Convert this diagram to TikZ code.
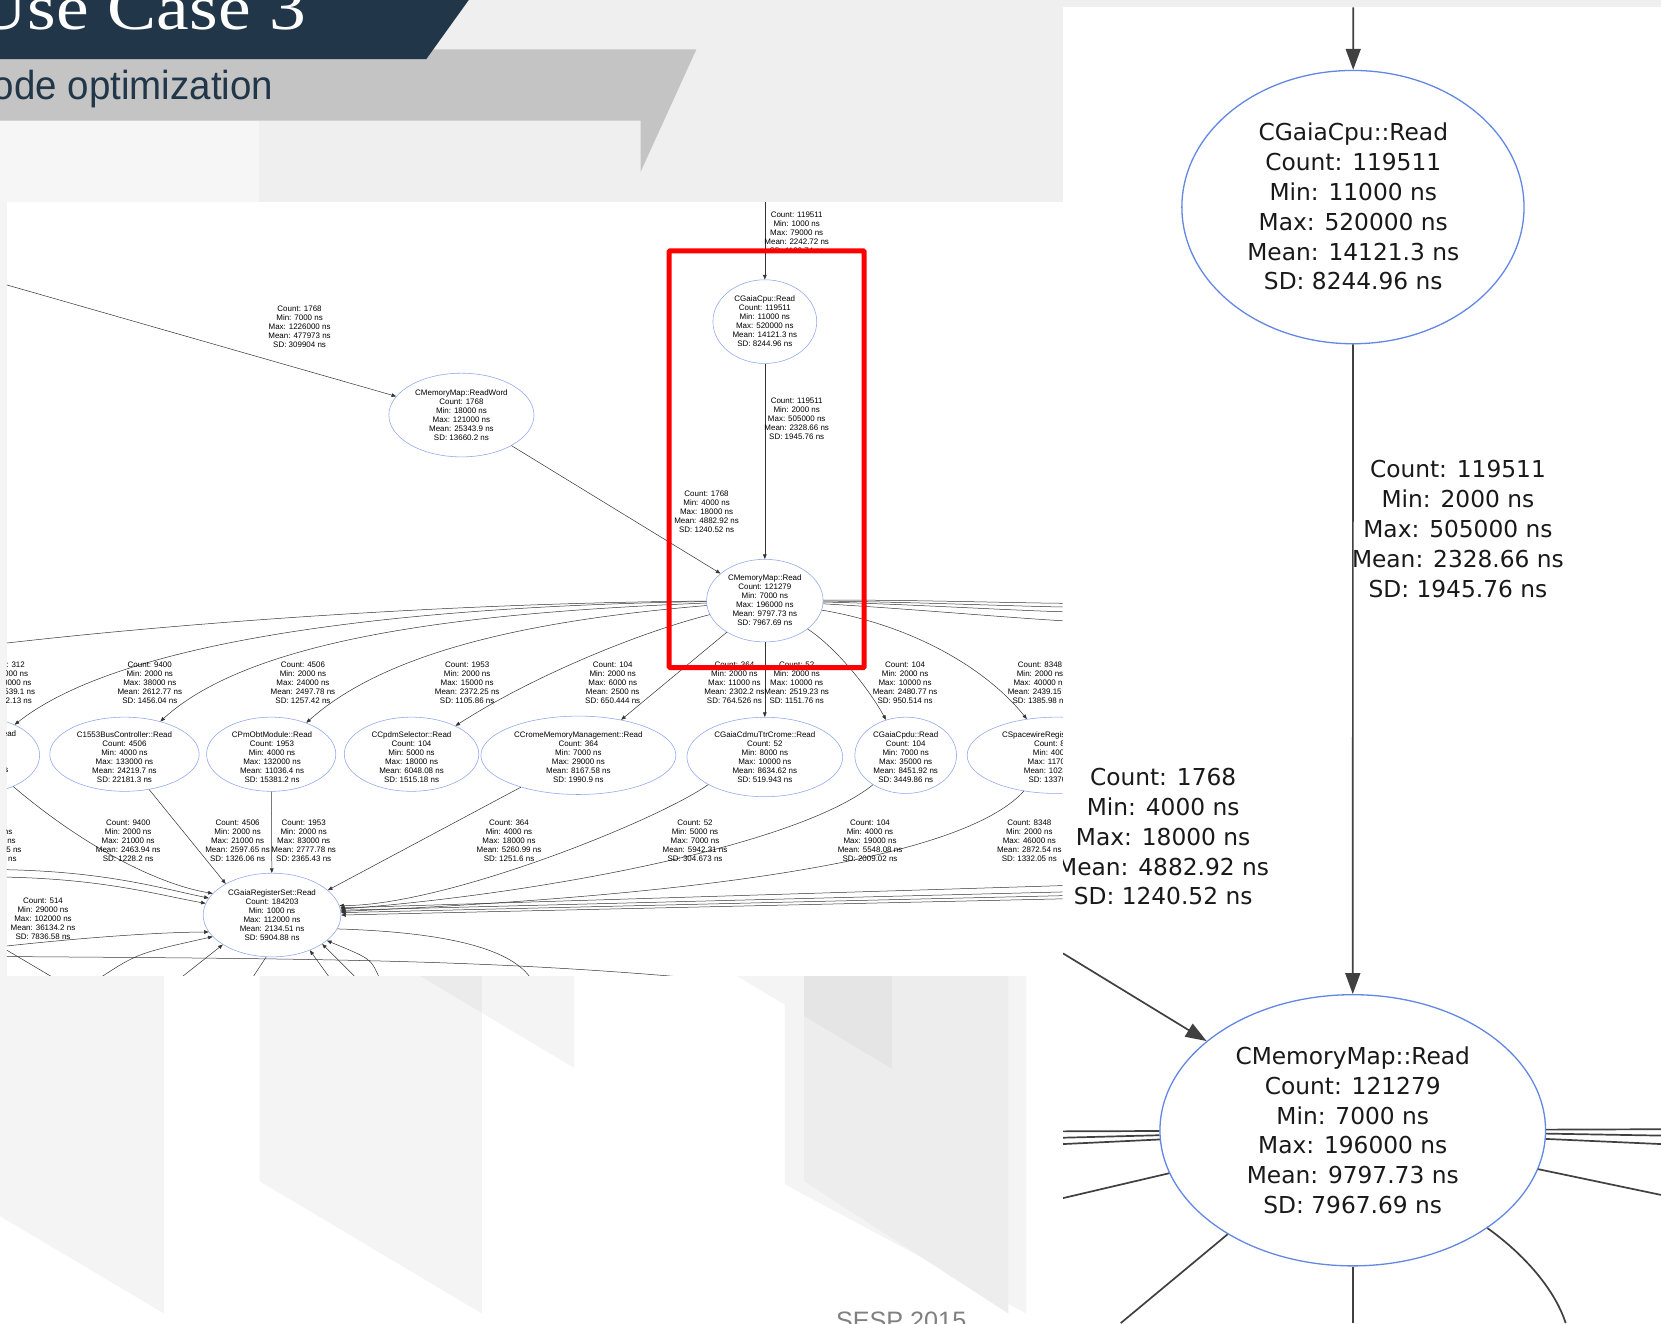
\documentclass[tikz,border=0pt]{standalone}
\usepackage{fontspec}
\setmainfont{Liberation Serif}
\newfontfamily\gf{Liberation Sans}
\newfontfamily\dv{DejaVu Sans}
\usetikzlibrary{shapes.geometric,arrows.meta}
\definecolor{navy}{HTML}{213649}
\definecolor{band}{HTML}{C4C4C4}
\definecolor{slide}{HTML}{EFEFEF}
\definecolor{pale}{HTML}{F6F6F6}
\definecolor{colA}{HTML}{F4F4F4}
\definecolor{colB}{HTML}{EBEBEB}
\definecolor{colC}{HTML}{EDEDED}
\definecolor{colD}{HTML}{E5E5E5}
\definecolor{ellb}{HTML}{8DA6EC}
\definecolor{ellB}{HTML}{6287E4}
\newcommand\elab[5]{Count: #1\\Min: #2 ns\\Max: #3 ns\\Mean: #4 ns\\SD: #5 ns}
\newcommand\ntext[6]{#1\\Count: #2\\Min: #3 ns\\Max: #4 ns\\Mean: #5 ns\\SD: #6 ns}
\tikzset{
 ge/.style 2 args={ellipse, draw=ellb, line width=0.55pt, minimum width=#1*1.0593pt, minimum height=#2*1.0593pt, inner sep=0pt},
 gt/.style={font=\gf\fontsize{7.97}{9.0}\selectfont, align=center, inner sep=0pt, text=black},
 gedge/.style={draw=black!80, line width=0.5pt, -{Triangle[length=4.6pt,width=3.6pt]}},
 gline/.style={draw=black!80, line width=0.5pt},
 be/.style 2 args={ellipse, draw=ellB, line width=1.3pt, minimum width=#1*1.0593pt, minimum height=#2*1.0593pt, inner sep=0pt},
 bt/.style={font=\dv\fontsize{23.3}{29.8}\selectfont, align=center, inner sep=0pt, text=black!90},
 bedge/.style={draw=black!75, line width=1.7pt, -{Triangle[length=21pt,width=15pt]}},
 bline/.style={draw=black!75, line width=1.7pt},
}
\begin{document}
\begin{tikzpicture}[x=1.0593pt,y=-1.0593pt]
\useasboundingbox (0,0) rectangle (1568,1249);
% ---------- slide background ----------
\fill[slide] (0,0) rectangle (1568,1249);
\fill[pale] (0,113.9) rectangle (244.5,190.5);
\fill[colA] (0,190.5) rectangle (6.5,921);
\fill[white] (0,921) rectangle (1003.5,1249);
\fill[colA] (0,921) -- (155,921) -- (155,1240) -- (0,1148) -- cycle;
\fill[colA] (245,921) -- (455,921) -- (455,1240) -- (245,1115) -- cycle;
\fill[colA] (396,921) -- (542,921) -- (542,1008) -- cycle;
\fill[colB] (396,921) -- (455,921) -- (455,956) -- cycle;
\fill[colA] (741,921) -- (969,921) -- (969,1240) -- (741,1118) -- cycle;
\fill[colA] (695,921) -- (842,921) -- (842,1009) -- cycle;
\fill[colC] (759,921) -- (952,921) -- (952,1240) -- (759,1115) -- cycle;
\fill[colD] (759,921) -- (842,921) -- (842,1009) -- (759,959) -- cycle;
\node[font=\gf\fontsize{25.2}{30}\selectfont, text=black!50, anchor=base west, inner sep=0pt] (footer) at (789,1255) {SESP 2015};
% ---------- title ----------
\fill[band] (0,46.6) -- (657.4,46.6) -- (604.8,162.1) -- (604.8,113.9) -- (0,113.9) -- cycle;
\fill[navy] (0,0) -- (442.5,0) -- (402.5,55.7) -- (0,55.7) -- cycle;
\node[font=\fontsize{64}{70}\selectfont, text=white, anchor=base east, inner sep=0pt, xscale=1.15] (title) at (289,28) {Use Case 3};
\node[font=\gf\fontsize{40.5}{45}\selectfont, text=navy, anchor=base east, inner sep=0pt, xscale=0.95] (subtitle) at (258,93.5) {ode optimization};
% ---------- graph screenshot ----------
\fill[white] (6.5,190.5) rectangle (1003,921);
\begin{scope}
\clip (6.5,190.5) rectangle (1003,921);
% nodes
\node[ge={98}{79}] (cpu) at (722,303.6) {};
\node[gt] (t-cpu) at (cpu) {\ntext{CGaiaCpu::Read}{119511}{11000}{520000}{14121.3}{8244.96}};
\node[ge={137}{79}] (rw) at (435.6,391.8) {};
\node[gt] (t-rw) at (rw) {\ntext{CMemoryMap::ReadWord}{1768}{18000}{121000}{25343.9}{13660.2}};
\node[ge={110}{78}] (cmm) at (722,567) {};
\node[gt] (t-cmm) at (cmm) {\ntext{CMemoryMap::Read}{121279}{7000}{196000}{9797.73}{7967.69}};
\node[ge={120}{72}] (p0) at (-22.6,713) {};
\node[gt] (t-p0) at (-22.6,714) {\ntext{CGaiaPdhuSpw::Read}{312}{4000}{9000}{10234.5}{1112.13}};
\node[ge={141}{70}] (c1553) at (117.5,712) {};
\node[gt] (t-c1553) at (117.5,714.4) {\ntext{C1553BusController::Read}{4506}{4000}{133000}{24219.7}{22181.3}};
\node[ge={122}{70}] (cpm) at (256,712) {};
\node[gt] (t-cpm) at (256.8,714.4) {\ntext{CPmObtModule::Read}{1953}{4000}{132000}{11036.4}{15381.2}};
\node[ge={127}{70}] (ccpdm) at (388.5,712) {};
\node[gt] (t-ccpdm) at (388.5,714.4) {\ntext{CCpdmSelector::Read}{104}{5000}{18000}{6048.08}{1515.18}};
\node[ge={184}{74}] (ccrome) at (546,713) {};
\node[gt] (t-ccrome) at (546,714.4) {\ntext{CCromeMemoryManagement::Read}{364}{7000}{29000}{8167.58}{1990.9}};
\node[ge={147}{75}] (ccdmu) at (722,714.6) {};
\node[gt] (t-ccdmu) at (722,714.4) {\ntext{CGaiaCdmuTtrCrome::Read}{52}{8000}{10000}{8634.62}{519.943}};
\node[ge={96}{72}] (ccpdu) at (855,713) {};
\node[gt] (t-ccpdu) at (855,714.4) {\ntext{CGaiaCpdu::Read}{104}{7000}{35000}{8451.92}{3449.86}};
\node[ge={168}{72}] (cspw) at (997,713) {};
\node[gt] (t-cspw) at (997,714.4) {\ntext{CSpacewireRegisterSet::Read}{8348}{4000}{117000}{10234.5}{13370.8}};
\node[ge={130}{79}] (creg) at (256.8,863.8) {};
\node[gt] (t-creg) at (creg) {\ntext{CGaiaRegisterSet::Read}{184203}{1000}{112000}{2134.51}{5904.88}};
% free ends
\coordinate (topin) at (722,190.5);
\coordinate (rwin) at (6.5,269);
\coordinate (lft1) at (6.5,607);
\coordinate (r1) at (1003,569.5);
\coordinate (r2) at (1003,573);
\coordinate (r3) at (1003,577.5);
\coordinate (r4) at (1003,586);
\coordinate (rr1) at (1003,836);
\coordinate (rr2) at (1003,842);
\coordinate (rr3) at (1003,845.5);
\coordinate (rr4) at (1003,848.5);
\coordinate (ll1) at (6.5,821);
\coordinate (ll2) at (6.5,828);
\coordinate (ll3) at (6.5,893);
\coordinate (ll5) at (6.5,897);
\coordinate (ll6) at (6.5,903);
\coordinate (b1) at (172,922);
\coordinate (b2) at (239,922);
\coordinate (b3) at (310.5,922);
\coordinate (b4) at (335,922);
\coordinate (b5) at (357.6,922);
\coordinate (b6) at (500,922);
\coordinate (b7) at (96,922);
\coordinate (b8) at (48.8,922);
\coordinate (b9) at (640,922);
% edges, upper part
\draw[gedge] (topin) -- (cpu);
\draw[gedge] (cpu) -- (cmm);
\draw[gedge] (rwin) -- (rw);
\draw[gedge] (rw) -- (cmm);
\draw[gedge] (cmm) -- (ccrome);
\draw[gedge] (cmm) -- (ccdmu);
\draw[gedge] (cmm) .. controls (790,612) and (820,650) .. (ccpdu);
\draw[gedge] (cmm) .. controls (860,590) and (930,630) .. (cspw);
\draw[gedge] (cmm) .. controls (600,598) and (500,640) .. (ccpdm);
\draw[gedge] (cmm) .. controls (520,584) and (370,610) .. (cpm);
\draw[gedge] (cmm) .. controls (450,578) and (240,600) .. (c1553);
\draw[gedge] (cmm) .. controls (400,572) and (120,600) .. (p0);
\draw[gline] (cmm) .. controls (450,569) and (200,585) .. (lft1);
\draw[gline] (cmm) .. controls (850,566) and (950,569) .. (r1);
\draw[gline] (cmm) .. controls (850,568) and (950,572) .. (r2);
\draw[gline] (cmm) .. controls (850,570) and (950,576) .. (r3);
\draw[gline] (cmm) .. controls (850,574) and (950,583) .. (r4);
% edges, lower part
\draw[gedge] (c1553.-55) -- (creg.146);
\draw[gedge] (cpm) -- (creg);
\draw[gedge] (ccrome.209) -- (creg.24);
\draw[gedge] (ccdmu.206) .. controls (620,775) and (420,855) .. (creg.8);
\draw[gedge] (ccpdu.222) .. controls (750,800) and (500,845) .. (creg.5);
\draw[gedge] (cspw.228) .. controls (900,820) and (600,848) .. (creg.3);
\draw[gedge] (rr1) -- (creg.6);
\draw[gedge] (rr2) -- (creg.4);
\draw[gedge] (rr3) -- (creg.2);
\draw[gedge] (rr4) -- (creg.0);
\draw[gedge] (ll1) .. controls (100,823) and (150,838) .. (creg.165);
\draw[gedge] (ll2) .. controls (100,830) and (150,845) .. (creg.170);
\draw[gedge] (p0.-40) .. controls (80,800) and (150,835) .. (creg.160);
\draw[gedge] (ll3) .. controls (80,885) and (150,880) .. (creg.195);
\draw[gline] (ll5) -- (b8);
\draw[gline] (ll6) .. controls (300,905) and (450,906) .. (b9);
\draw[gedge] (b7) .. controls (130,900) .. (creg.200);
\draw[gedge] (b1) -- (creg.211);
\draw[gline] (creg.262) -- (b2);
\draw[gedge] (b3) -- (creg.-43);
\draw[gedge] (b4) -- (creg.-30);
\draw[gedge] (b5) .. controls (350,905) .. (creg.-25);
\draw[gline] (creg.-12) .. controls (420,880) and (480,895) .. (b6);
% edge labels
\node[gt] (l-top) at (752.1,220) {\elab{119511}{1000}{79000}{2242.72}{1123.74}};
\node[gt] (l-cpu) at (752.1,395.5) {\elab{119511}{2000}{505000}{2328.66}{1945.76}};
\node[gt] (l-rwin) at (282.8,308) {\elab{1768}{7000}{1226000}{477973}{309904}};
\node[gt] (l-rw) at (667,483.3) {\elab{1768}{4000}{18000}{4882.92}{1240.52}};
\node[gt] (l-a0) at (4.7,644.8) {\elab{312}{2000}{30000}{2539.1}{1112.13}};
\node[gt] (l-a1) at (141.4,644.8) {\elab{9400}{2000}{38000}{2612.77}{1456.04}};
\node[gt] (l-a2) at (286,644.8) {\elab{4506}{2000}{24000}{2497.78}{1257.42}};
\node[gt] (l-a3) at (441,644.8) {\elab{1953}{2000}{15000}{2372.25}{1105.86}};
\node[gt] (l-a4) at (578.4,644.8) {\elab{104}{2000}{6000}{2500}{650.444}};
\node[gt] (l-a5) at (693.3,644.8) {\elab{364}{2000}{11000}{2302.2}{764.526}};
\node[gt] (l-a6) at (752.1,644.8) {\elab{52}{2000}{10000}{2519.23}{1151.76}};
\node[gt] (l-a7) at (854.4,644.8) {\elab{104}{2000}{10000}{2480.77}{950.514}};
\node[gt] (l-a8) at (981.8,644.8) {\elab{8348}{2000}{40000}{2439.15}{1385.98}};
\node[gt] (l-b0) at (-12.3,793.3) {\elab{52}{29000}{102000}{48182.35}{14610.87}};
\node[gt] (l-b1) at (121,793.3) {\elab{9400}{2000}{21000}{2463.94}{1228.2}};
\node[gt] (l-b2) at (224.3,793.3) {\elab{4506}{2000}{21000}{2597.65}{1326.06}};
\node[gt] (l-b3) at (286.7,793.3) {\elab{1953}{2000}{83000}{2777.78}{2365.43}};
\node[gt] (l-b4) at (480.5,793.3) {\elab{364}{4000}{18000}{5260.99}{1251.6}};
\node[gt] (l-b5) at (656.1,793.3) {\elab{52}{5000}{7000}{5942.31}{304.673}};
\node[gt] (l-b6) at (821.3,793.3) {\elab{104}{4000}{19000}{5548.08}{2009.02}};
\node[gt] (l-b7) at (971.7,793.3) {\elab{8348}{2000}{46000}{2872.54}{1332.05}};
\node[gt] (l-b8) at (40.6,867) {\elab{514}{29000}{102000}{36134.2}{7836.58}};
\end{scope}
% red highlight
\draw[red, line width=5pt, rounded corners=1pt] (631.7,236.8) rectangle (815.8,630.2);
% ---------- zoomed panel ----------
\fill[white] (1003.5,7) rectangle (1568,1249);
\begin{scope}
\clip (1003.5,7) rectangle (1568,1249);
\node[be={323}{258}] (bcpu) at (1277.2,195.5) {};
\node[bt] (t-bcpu) at (1277.5,195.1) {\ntext{CGaiaCpu::Read}{119511}{11000}{520000}{14121.3}{8244.96}};
\node[be={364}{256}] (bcmm) at (1277,1067) {};
\node[bt] (t-bcmm) at (1277,1067) {\ntext{CMemoryMap::Read}{121279}{7000}{196000}{9797.73}{7967.69}};
\coordinate (btop) at (1277.5,7);
\coordinate (bl0) at (1003.5,900);
\coordinate (bla) at (1003.5,1068);
\coordinate (blb) at (1003.5,1074);
\coordinate (blc) at (1003.5,1080);
\coordinate (bld) at (1003.5,1131);
\coordinate (bra) at (1568,1066);
\coordinate (brb) at (1568,1072);
\coordinate (brc) at (1568,1080);
\coordinate (brd) at (1568,1128);
\coordinate (bbl) at (1058,1249);
\coordinate (bbm) at (1277,1249);
\coordinate (bbr) at (1478,1249);
\draw[bedge] (btop) -- (bcpu);
\draw[bedge] (bcpu) -- (bcmm);
\draw[bedge] (bl0) -- (bcmm);
\draw[bline] (bla) -- (bcmm);
\draw[bline] (blb) -- (bcmm);
\draw[bline] (blc) -- (bcmm);
\draw[bline] (bld) -- (bcmm);
\draw[bline] (bra) -- (bcmm);
\draw[bline] (brb) -- (bcmm);
\draw[bline] (brc) -- (bcmm);
\draw[bline] (brd) -- (bcmm);
\draw[bline] (bcmm) -- (bbl);
\draw[bline] (bcmm) -- (bbm);
\draw[bline] (bcmm.-36) .. controls (1440,1185) and (1468,1218) .. (bbr);
\node[bt] (bl-cpu) at (1376.3,499.4) {\elab{119511}{2000}{505000}{2328.66}{1945.76}};
\node[bt] (bl-rw) at (1098,790) {\elab{1768}{4000}{18000}{4882.92}{1240.52}};
\end{scope}
\end{tikzpicture}
\end{document}
